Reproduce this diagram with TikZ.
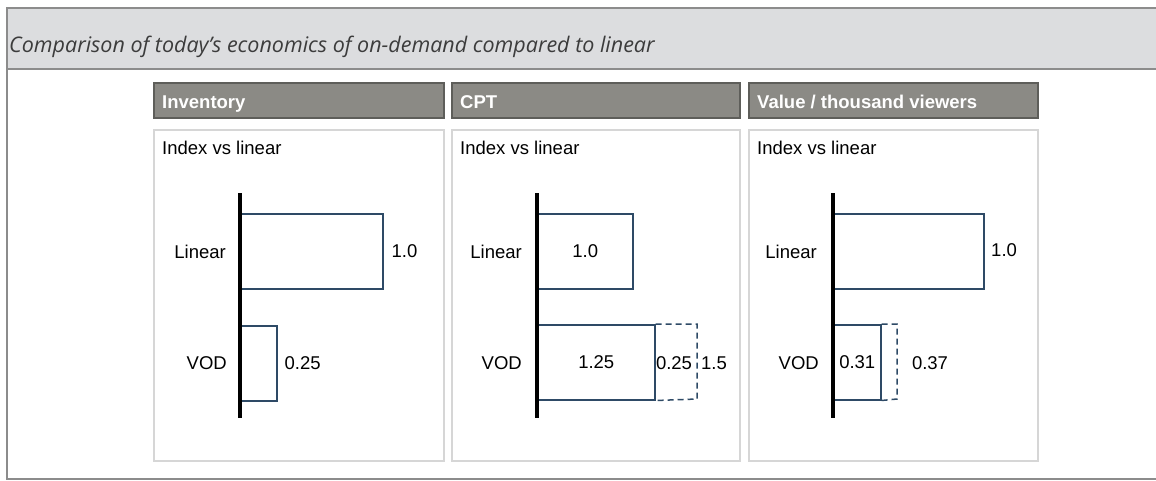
\documentclass[tikz,border=0pt]{standalone}
\usepackage{fontspec}
\setmainfont{Liberation Sans}
\newfontfamily\titlefont{Open Sans}
\definecolor{titlefill}{HTML}{DCDDDF}
\definecolor{framegray}{HTML}{8C8C8C}
\definecolor{hdrfill}{HTML}{8B8A85}
\definecolor{hdrline}{HTML}{5E5E5A}
\definecolor{panelline}{HTML}{D6D6D6}
\definecolor{barline}{HTML}{2E4A66}
\definecolor{titletext}{HTML}{3C3C3C}
\begin{document}
\begin{tikzpicture}[x=1pt,y=-1pt,
  frame/.style={draw=framegray,line width=2pt},
  hdrbox/.style={fill=hdrfill,draw=hdrline,line width=1.5pt},
  hdrtext/.style={anchor=base west,inner sep=0pt,text=white,font=\bfseries\fontsize{18.5}{21}\selectfont},
  panelbox/.style={draw=panelline,line width=2pt,fill=white},
  lbl/.style={inner sep=0pt,font=\fontsize{18.5}{21}\selectfont},
  axisline/.style={line width=3.5pt,black},
  bar/.style={draw=barline,line width=1.5pt,rectangle,inner sep=0pt,anchor=north west},
  dashbar/.style={draw=barline,line width=1.5pt,dash pattern=on 6pt off 4pt}
]
\useasboundingbox (0,0) rectangle (1156,480);
% outer frame
\fill[titlefill] (7,8) rectangle (1160,69);
\draw[frame] (1160,8) -- (7,8) -- (7,479) -- (1160,479);
\draw[frame] (7,69) -- (1160,69);
\node[anchor=base west,inner sep=0pt,text=titletext,font=\titlefont\itshape\fontsize{21.5}{24}\selectfont] (title) at (9,52) {Comparison of today’s economics of on-demand compared to linear};

% ---------- Panel 1: Inventory ----------
\draw[hdrbox] (154,83) rectangle (444,118);
\node[hdrtext] (h1) at (162,108) {Inventory};
\draw[panelbox] (154,130) rectangle (444,461);
\node[lbl,anchor=base west] (i1) at (162,154) {Index vs linear};
\coordinate (a1t) at (240,193);
\coordinate (a1b) at (240,418);
\node[bar,minimum width=142pt,minimum height=75pt] (l1) at (240,213) {};
\node[bar,minimum width=36pt,minimum height=75pt] (v1) at (240,325) {};
\draw[axisline] (a1t) -- (a1b);
\node[lbl,anchor=east] (ll1) at (226,252) {Linear};
\node[lbl,anchor=east] (vl1) at (227,363) {VOD};
\node[lbl,anchor=west] at ([xshift=8pt]l1.east) {1.0};
\node[lbl,anchor=west] at ([xshift=7pt]v1.east) {0.25};

% ---------- Panel 2: CPT ----------
\draw[hdrbox] (452,83) rectangle (740,118);
\node[hdrtext] (h2) at (460,108) {CPT};
\draw[panelbox] (452,130) rectangle (740,461);
\node[lbl,anchor=base west] (i2) at (460,154) {Index vs linear};
\coordinate (a2t) at (537,193);
\coordinate (a2b) at (537,418);
\node[bar,minimum width=95pt,minimum height=75pt] (l2) at (537,213) {};
\node[bar,minimum width=117pt,minimum height=75pt] (v2) at (537,324) {};
\coordinate (d2a) at (697,324);
\coordinate (d2b) at (697,399);
\draw[dashbar] (v2.north east) -- (d2a) -- (d2b) -- (v2.south east);
\draw[axisline] (a2t) -- (a2b);
\node[lbl,anchor=east] (ll2) at (522,252) {Linear};
\node[lbl,anchor=east] (vl2) at (522,363) {VOD};
\node[lbl] at (l2.center) {1.0};
\node[lbl] at (v2.center) {1.25};
\node[lbl] at (674,363) {0.25};
\node[lbl] at (714,363) {1.5};

% ---------- Panel 3: Value / thousand viewers ----------
\draw[hdrbox] (749,83) rectangle (1038,118);
\node[hdrtext] (h3) at (757,108) {Value / thousand viewers};
\draw[panelbox] (749,130) rectangle (1038,461);
\node[lbl,anchor=base west] (i3) at (757,154) {Index vs linear};
\coordinate (a3t) at (833,193);
\coordinate (a3b) at (833,418);
\node[bar,minimum width=150pt,minimum height=75pt] (l3) at (833,213) {};
\node[bar,minimum width=47pt,minimum height=75pt] (v3) at (833,324) {};
\coordinate (d3a) at (897,324);
\coordinate (d3b) at (897,399);
\draw[dashbar] (v3.north east) -- (d3a) -- (d3b) -- (v3.south east);
\draw[axisline] (a3t) -- (a3b);
\node[lbl,anchor=east] (ll3) at (817,252) {Linear};
\node[lbl,anchor=east] (vl3) at (819,363) {VOD};
\node[lbl,anchor=west] at (991,250) {1.0};
\node[lbl] at (v3.center) {0.31};
\node[lbl] at (930,363) {0.37};
\end{tikzpicture}
\end{document}
